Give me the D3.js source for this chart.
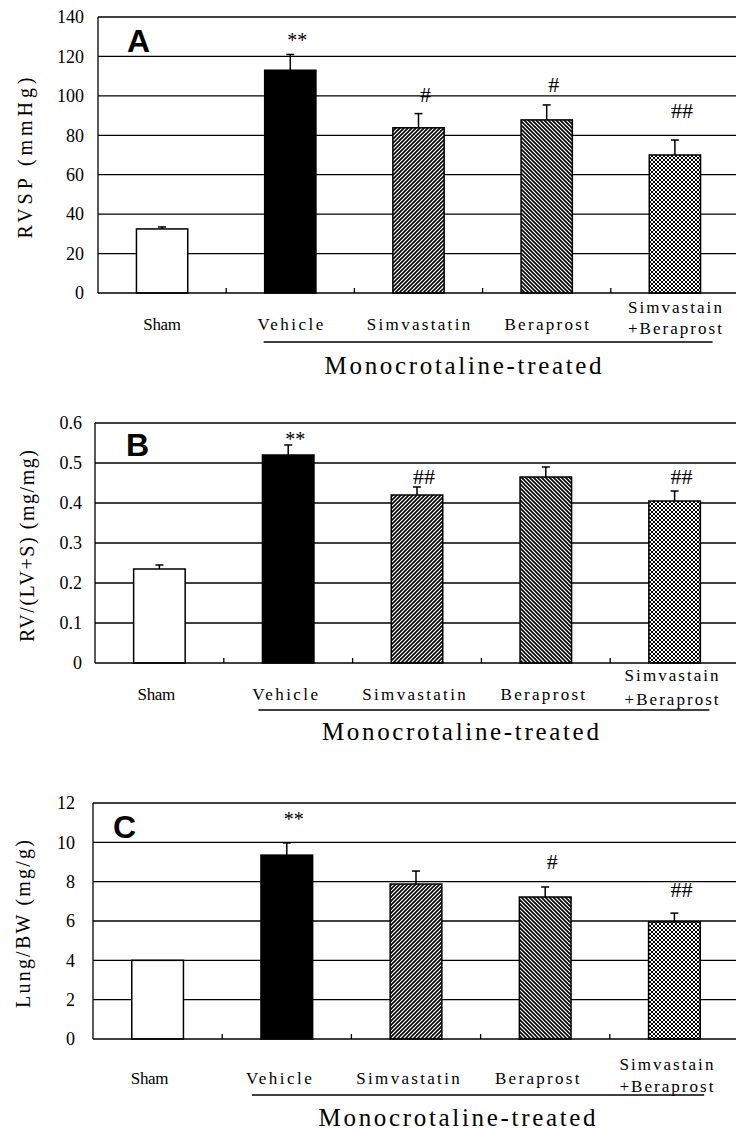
<!DOCTYPE html>
<html lang="en">
<head>
<meta charset="UTF-8">
<script src="https://d3js.org/d3.v7.min.js"></script>
<title>RVSP, RV/(LV+S), Lung/BW</title>
<style>
    body { margin: 0; background: #fff; }
    svg { display: block; }
    text { font-family: "Liberation Serif", "DejaVu Serif", serif; fill: #000; }
    .grid line, .axis-line { stroke: #000; stroke-width: 1.3; }
    .bar { stroke: #000; stroke-width: 1.5; }
    .err { stroke: #000; stroke-width: 1.5; fill: none; }
    .letter { font-family: "Liberation Sans", Arial, sans-serif; font-weight: bold; }
</style>
</head>
<body>
<svg width="736" height="1132"></svg>
<script>
    // groups (the last one spans two lines under the axis)
    const categories = ["Sham", "Vehicle", "Simvastatin", "Beraprost", "Combo"]
    const categoryLabels = [["Sham"], ["Vehicle"], ["Simvastatin"], ["Beraprost"], ["Simvastain", "+Beraprost"]]
    const treatedLabel = "Monocrotaline-treated"

    // panel A: RVSP
    const rvsp = [32.5, 113, 83.8, 87.8, 70]
    const rvspErr = [1, 8, 7.2, 7.6, 7.6]
    const rvspMarks = ["", "**", "#", "#", "##"]
    const rvspMarkAt = [null, 128, 100.5, 105.6, 92.4]
    const rvspTicks = [0, 20, 40, 60, 80, 100, 120, 140]

    // panel B: RV/(LV+S)
    const rvRatio = [0.235, 0.52, 0.42, 0.465, 0.405]
    const rvRatioErr = [0.01, 0.025, 0.02, 0.025, 0.025]
    const rvRatioMarks = ["", "**", "##", "", "##"]
    const rvRatioMarkAt = [null, 0.557, 0.465, null, 0.465]
    const rvRatioTicks = [0, 0.1, 0.2, 0.3, 0.4, 0.5, 0.6]

    // panel C: Lung/BW
    const lungBw = [4.0, 9.35, 7.88, 7.22, 5.95]
    const lungBwErr = [0, 0.62, 0.66, 0.51, 0.45]
    const lungBwMarks = ["", "**", "", "#", "##"]
    const lungBwMarkAt = [null, 11.13, null, 9.0, 7.57]
    const lungBwTicks = [0, 2, 4, 6, 8, 10, 12]

    const yTitles = ["RVSP (mmHg)", "RV/(LV+S) (mg/mg)", "Lung/BW (mg/g)"]
    const panelLetters = ["A", "B", "C"]

    const fills = ["#fff", "#000", "url(#hatchUp)", "url(#hatchDown)", "url(#cross)"]

    const svg = d3.select("svg")

    // hatch patterns
    const defs = svg.append("defs")
    const addPattern = (id, paths, sw) => {
        const p = defs.append("pattern")
            .attr("id", id)
            .attr("patternUnits", "userSpaceOnUse")
            .attr("width", 4).attr("height", 4)
        p.append("rect").attr("width", 4).attr("height", 4).attr("fill", "#fff")
        paths.forEach(d => p.append("path").attr("d", d)
            .attr("stroke", "#000").attr("stroke-width", sw).attr("fill", "none"))
    }
    const up = "M-1,1 l2,-2 M0,4 l4,-4 M3,5 l2,-2"
    const down = "M-1,3 l2,2 M0,0 l4,4 M3,-1 l2,2"
    addPattern("hatchUp", [up], 1.6)
    addPattern("hatchDown", [down], 1.6)
    addPattern("cross", [up, down], 1.0)

    const right = 739

    const panels = [
        { values: rvsp, errs: rvspErr, marks: rvspMarks, markAt: rvspMarkAt, ticks: rvspTicks,
          fmt: d3.format("d"), title: yTitles[0], letter: panelLetters[0],
          left: 98, top: 17, bottom: 293, tickPad: 14, titleX: 25, titleLen: 161,
          letterX: 127, letterY: 52, labelDy: 31, comboDy: [-17, 4], lineDy: 49, monoDy: 81, shift: 0 },
        { values: rvRatio, errs: rvRatioErr, marks: rvRatioMarks, markAt: rvRatioMarkAt, ticks: rvRatioTicks,
          fmt: d => d === 0 ? "0" : d3.format(".1f")(d), title: yTitles[1], letter: panelLetters[1],
          left: 95, top: 423, bottom: 663, tickPad: 13, titleX: 27, titleLen: 192,
          letterX: 126, letterY: 456, labelDy: 31, comboDy: [-19, 5], lineDy: 47, monoDy: 77, shift: -3 },
        { values: lungBw, errs: lungBwErr, marks: lungBwMarks, markAt: lungBwMarkAt, ticks: lungBwTicks,
          fmt: d3.format("d"), title: yTitles[2], letter: panelLetters[2],
          left: 93, top: 803, bottom: 1039, tickPad: 18, titleX: 23, titleLen: 168,
          letterX: 113, letterY: 838, labelDy: 39, comboDy: [-14, 8], lineDy: 56, monoDy: 87, shift: -8 }
    ]

    const drawPanel = (p) => {
        const g = svg.append("g")
        const x = d3.scaleBand()
            .domain(categories)
            .range([p.left, right])
            .paddingInner(0.6)
            .paddingOuter(0.3)
        const y = d3.scaleLinear()
            .domain([0, d3.max(p.ticks)])
            .range([p.bottom, p.top])
        const bw = x.bandwidth()
        const step = x.step()

        // gridlines
        g.append("g").attr("class", "grid")
            .selectAll("line")
            .data(p.ticks.filter(t => t > 0))
            .enter().append("line")
            .attr("x1", p.left).attr("x2", right)
            .attr("y1", d => y(d)).attr("y2", d => y(d))

        // y axis labels
        const yAxis = d3.axisLeft(y).tickValues(p.ticks).tickFormat(p.fmt)
            .tickSize(0).tickPadding(p.tickPad)
        const ya = g.append("g").attr("transform", `translate(${p.left},0)`).call(yAxis)
        ya.select(".domain").remove()
        ya.selectAll("text").style("font-size", "18px").style("font-family", "Liberation Serif")

        // bars
        g.selectAll(".bar")
            .data(p.values)
            .enter().append("rect")
            .attr("class", "bar")
            .attr("x", (d, i) => x(categories[i]))
            .attr("width", bw)
            .attr("y", d => y(d))
            .attr("height", d => y(0) - y(d))
            .attr("fill", (d, i) => fills[i])

        // error bars
        const errG = g.selectAll(".errg")
            .data(p.values.map((v, i) => ({ v, e: p.errs[i], c: categories[i] })).filter(d => d.e > 0))
            .enter().append("g")
        errG.append("line").attr("class", "err")
            .attr("x1", d => x(d.c) + bw / 2).attr("x2", d => x(d.c) + bw / 2)
            .attr("y1", d => y(d.v)).attr("y2", d => y(d.v + d.e))
        errG.append("line").attr("class", "err")
            .attr("x1", d => x(d.c) + bw / 2 - 4).attr("x2", d => x(d.c) + bw / 2 + 4)
            .attr("y1", d => y(d.v + d.e)).attr("y2", d => y(d.v + d.e))

        // significance marks
        g.selectAll(".mark")
            .data(p.marks.map((m, i) => ({ m, at: p.markAt[i], c: categories[i] })).filter(d => d.m))
            .enter().append("text")
            .attr("x", d => x(d.c) + bw / 2 + 7)
            .attr("y", d => y(d.at) + (d.m.includes("*") ? 6 : 7))
            .attr("text-anchor", "middle")
            .style("font-size", d => d.m.includes("*") ? "20px" : "22px")
            .text(d => d.m)

        // axis lines and minor ticks at group boundaries
        g.append("line").attr("class", "axis-line")
            .attr("x1", p.left).attr("x2", p.left).attr("y1", p.top).attr("y2", p.bottom)
        g.append("line").attr("class", "axis-line")
            .attr("x1", p.left).attr("x2", right).attr("y1", p.bottom).attr("y2", p.bottom)
        g.selectAll(".xtick")
            .data(categories.slice(0, -1))
            .enter().append("line").attr("class", "axis-line")
            .attr("x1", d => x(d) + bw / 2 + step / 2).attr("x2", d => x(d) + bw / 2 + step / 2)
            .attr("y1", p.bottom).attr("y2", p.bottom - 5)

        // category labels
        categoryLabels.forEach((lines, i) => {
            const cx = x(categories[i]) + bw / 2 + p.shift
            lines.forEach((t, j) => {
                const dy = lines.length === 1 ? p.labelDy : p.labelDy + p.comboDy[j]
                g.append("text")
                    .attr("x", cx)
                    .attr("y", p.bottom + dy)
                    .attr("text-anchor", "middle")
                    .attr("dominant-baseline", "central")
                    .attr("textLength", t.length * 9.4)
                    .attr("lengthAdjust", "spacing")
                    .style("font-size", "17px")
                    .text(t)
            })
        })

        // treated bracket
        const lx1 = x(categories[1]) - 1
        const lx2 = x(categories[4]) + bw + 12 + p.shift
        g.append("line").attr("class", "axis-line")
            .attr("x1", lx1 + p.shift).attr("x2", lx2)
            .attr("y1", p.bottom + p.lineDy).attr("y2", p.bottom + p.lineDy)
        g.append("text")
            .attr("x", (lx1 + lx2) / 2 - 25)
            .attr("y", p.bottom + p.monoDy)
            .attr("text-anchor", "middle")
            .attr("textLength", 277)
            .attr("lengthAdjust", "spacing")
            .style("font-size", "25px")
            .text(treatedLabel)

        // y title
        g.append("text")
            .attr("transform", `translate(${p.titleX},${(p.top + p.bottom) / 2 + 3}) rotate(-90)`)
            .attr("text-anchor", "middle")
            .attr("dominant-baseline", "central")
            .attr("textLength", p.titleLen)
            .attr("lengthAdjust", "spacing")
            .style("font-size", "20px")
            .text(p.title)

        // panel letter
        g.append("text").attr("class", "letter")
            .attr("x", p.letterX).attr("y", p.letterY)
            .style("font-size", "32px")
            .text(p.letter)
    }

    panels.forEach(drawPanel)
</script>
</body>
</html>
